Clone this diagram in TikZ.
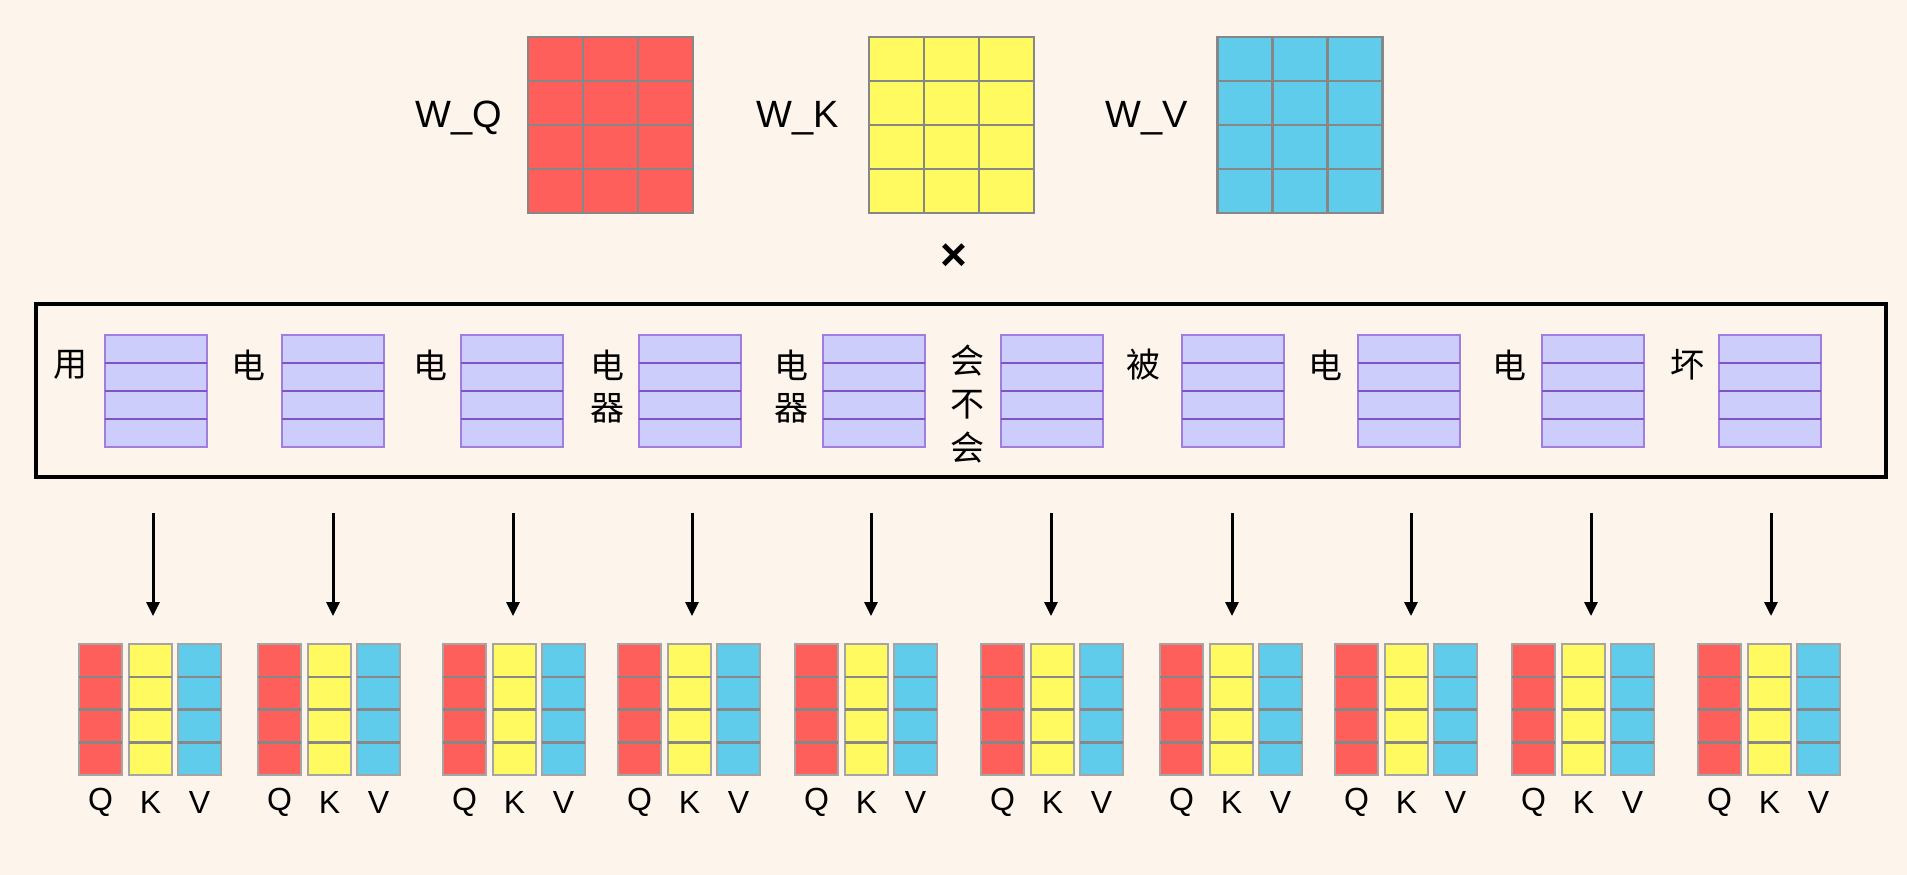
\documentclass[tikz,border=0pt]{standalone}
\usepackage{fontspec}
\setmainfont{Liberation Sans}
\newfontfamily\cjkfont{Noto Sans CJK SC}
\usetikzlibrary{arrows.meta,calc}
\definecolor{bgc}{RGB}{253,245,235}
\definecolor{qred}{RGB}{255,95,90}
\definecolor{kyel}{RGB}{255,250,95}
\definecolor{vblue}{RGB}{96,204,236}
\definecolor{gridg}{RGB}{135,135,135}
\definecolor{edgeg}{RGB}{165,165,165}
\definecolor{pfill}{RGB}{205,205,252}
\definecolor{pedge}{RGB}{160,125,222}
\definecolor{pline}{RGB}{128,84,196}
\newcommand\myrowlines[3]{%
  \foreach \f in {#3}
    \draw[#2] ($(#1.north west)!\f!(#1.south west)$) -- ($(#1.north east)!\f!(#1.south east)$);}
\newcommand\mycollines[3]{%
  \foreach \f in {#3}
    \draw[#2] ($(#1.north west)!\f!(#1.north east)$) -- ($(#1.south west)!\f!(#1.south east)$);}
\begin{document}
\begin{tikzpicture}[x=1pt,y=-1pt,
  mat/.style={draw=gridg, line width=2.5pt, minimum width=165pt, minimum height=176pt, inner sep=0pt, outer sep=0pt},
  gline/.style={draw=gridg, line width=2.5pt},
  emb/.style={draw=pedge, fill=pfill, line width=2.5pt, minimum width=102pt, minimum height=112pt, inner sep=0pt, outer sep=0pt},
  pl/.style={draw=pline, line width=2.5pt},
  colbox/.style={draw=edgeg, line width=2.5pt, minimum width=43pt, minimum height=131pt, inner sep=0pt, outer sep=0pt},
  wlab/.style={font=\fontsize{38}{40}\selectfont, anchor=base east, inner sep=0pt},
  clab/.style={font=\cjkfont\fontsize{34}{36}\selectfont, inner sep=0pt},
  qlab/.style={font=\fontsize{32}{34}\selectfont, inner sep=0pt},
  arr/.style={-{Triangle[length=14pt,width=13pt]}, line width=3pt},
]
\useasboundingbox[fill=bgc] (0,0) rectangle (1907,875);

% weight matrices
\node[mat, fill=qred] (WQ) at (610.5,125) {};
\node[mat, fill=kyel] (WK) at (951.5,125) {};
\node[mat, fill=vblue] (WV) at (1300,125) {};
\foreach \m in {WQ,WK,WV}{
  \myrowlines{\m}{gline}{0.25,0.5,0.75}
  \mycollines{\m}{gline}{0.3333,0.6667}
}
\node[wlab] (lWQ) at (502,127) {W\_Q};
\node[wlab] (lWK) at (839,127) {W\_K};
\node[wlab] (lWV) at (1188,127) {W\_V};
\node[font=\fontsize{46}{46}\selectfont\bfseries, inner sep=0pt] (times) at (954,257) {×};

% token box
\node[draw=black, line width=3.5pt, minimum width=1850pt, minimum height=173pt, inner sep=0pt] (seq) at (961,390.5) {};
\foreach \ex [count=\i] in {105,282,461,639,823,1001,1182,1358,1542,1719}{
  \node[emb, anchor=north west] (e\i) at (\ex,335) {};
  \myrowlines{e\i}{pl}{0.25,0.5,0.75}
}
\node[clab] (t1) at (70,365) {用};
\node[clab] (t2) at (248,365) {电};
\node[clab] (t3) at (430,365) {电};
\node[clab] (t4a) at (607,365) {电};
\node[clab] (t4b) at (607,408) {器};
\node[clab] (t5a) at (791,365) {电};
\node[clab] (t5b) at (791,408) {器};
\node[clab] (t6a) at (967,361) {会};
\node[clab] (t6b) at (967,405) {不};
\node[clab] (t6c) at (967,448) {会};
\node[clab] (t7) at (1143,365) {被};
\node[clab] (t8) at (1325,365) {电};
\node[clab] (t9) at (1509,365) {电};
\node[clab] (t10) at (1687,365) {坏};

% Q K V outputs
\foreach \gx/\ax [count=\i] in {79/153,258/333,443/513,618/692,795/871,981/1051,1160/1232,1335/1411,1512/1591,1698/1771}{
  \node[colbox, fill=qred, anchor=north west] (q\i) at (\gx,644) {};
  \node[colbox, fill=kyel, anchor=north west] (k\i) at (\gx+50,644) {};
  \node[colbox, fill=vblue, anchor=north west] (v\i) at (\gx+99,644) {};
  \myrowlines{q\i}{gline}{0.25,0.5,0.75}
  \myrowlines{k\i}{gline}{0.25,0.5,0.75}
  \myrowlines{v\i}{gline}{0.25,0.5,0.75}
  \node[qlab] (lq\i) at (\gx+21.5,802) {Q};
  \node[qlab] (lk\i) at (\gx+71.5,802) {K};
  \node[qlab] (lv\i) at (\gx+120.5,802) {V};
  \coordinate (s\i) at (\ax,513);
  \draw[arr, shorten >=28pt] (s\i) -- (s\i |- k\i.north);
}
\end{tikzpicture}
\end{document}
